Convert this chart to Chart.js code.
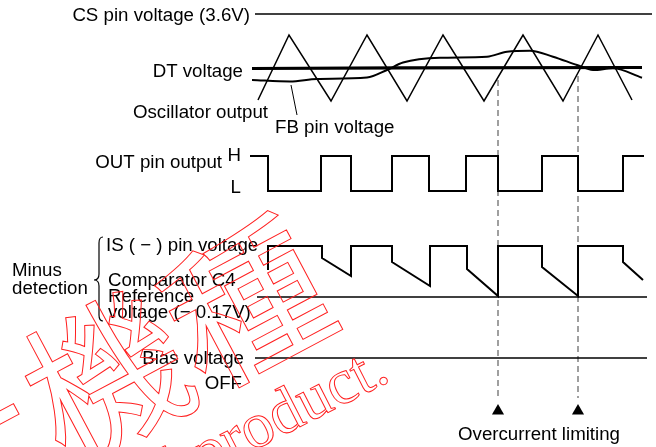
<!DOCTYPE html>
<html>
<head>
<meta charset="utf-8">
<script src="https://cdn.jsdelivr.net/npm/chart.js@4"></script>
<style>
  body { margin: 0; background: #fff; }
  canvas { display: block; }
</style>
</head>
<body>
<canvas id="diagram" width="656" height="447"></canvas>
<script>
// time axis runs left to right, levels are measured down from the top of the diagram
const csTimes = [255, 652];
const csLevels = [14, 14];

const oscTimes = [258, 289, 331, 367, 407, 443, 484, 523, 563, 598, 632];
const oscLevels = [100, 35, 101, 35, 101, 35, 101, 35, 101, 35, 100];

const dtTimes = [252, 400, 642];
const dtLevels = [68.5, 67.8, 67.5];

const fbTimes = [252, 290, 317, 367, 387, 403, 440, 487, 507, 530, 553, 577, 593, 613, 642];
const fbLevels = [80, 81.5, 79, 77.5, 70, 62.5, 57.7, 56.7, 51.7, 50.7, 56.7, 65, 70, 68.3, 77.7];

const fbPointerTimes = [291, 297];
const fbPointerLevels = [85, 115];

// OUT pin edges (stepped): level after each edge
const outTimes = [250, 268, 321, 351, 392, 429, 466, 498, 542, 578, 623, 644];
const outLevels = [156, 191, 156, 191, 156, 191, 156, 191, 156, 191, 156, 156];

const isTimes = [268, 268, 322, 322, 351, 351, 392, 392, 430, 430, 467, 467, 498, 498, 542, 542, 578, 578, 623, 623, 643];
const isLevels = [270, 246, 246, 258, 276, 246, 246, 262, 286, 246, 246, 269, 296, 246, 246, 267, 296, 246, 246, 262, 280];

const refTimes = [257, 647];
const refLevels = [297, 297];

const biasTimes = [255, 647];
const biasLevels = [358, 358];

const limitTimes = [498, 578];
const limitTop = [80, 76];
const limitBottom = 398;
const markerLevel = 411;

const labels = [
  ['CS pin voltage (3.6V)', 250, 16, 'right'],
  ['DT voltage', 243, 72, 'right'],
  ['Oscillator output', 268, 113, 'right'],
  ['FB pin voltage', 275, 128, 'left'],
  ['OUT pin output', 222, 163, 'right'],
  ['H', 241, 156, 'right'],
  ['L', 241, 188, 'right'],
  ['Minus', 12, 271, 'left'],
  ['detection', 12, 289, 'left'],
  ['IS ( \u2212 ) pin voltage', 106, 246, 'left'],
  ['Comparator C4', 108, 281, 'left'],
  ['Reference', 108, 297, 'left'],
  ['voltage (\u2212 0.17V)', 108, 313, 'left'],
  ['Bias voltage', 244, 359, 'right'],
  ['OFF', 242, 384, 'right'],
  ['Overcurrent limiting', 458, 435, 'left']
];

const toPoints = (xs, ys) => xs.map((x, i) => ({ x, y: ys[i] }));
const line = (xs, ys, extra) => Object.assign({
  data: toPoints(xs, ys),
  showLine: true,
  borderColor: '#000',
  borderWidth: 2,
  pointRadius: 0,
  fill: false
}, extra || {});

const datasets = [
  line(csTimes, csLevels, { borderWidth: 1.5 }),
  line(oscTimes, oscLevels, { borderWidth: 1.5 }),
  line(dtTimes, dtLevels, { borderWidth: 3.2 }),
  line(fbTimes, fbLevels, { borderWidth: 2, tension: 0.4, cubicInterpolationMode: 'monotone' }),
  line(fbPointerTimes, fbPointerLevels, { borderWidth: 1 }),
  line(outTimes, outLevels, { stepped: true }),
  line(isTimes, isLevels),
  line(refTimes, refLevels, { borderWidth: 1.5 }),
  line(biasTimes, biasLevels, { borderWidth: 1.5 })
];
limitTimes.forEach((t, i) => {
  datasets.push(line([t, t], [limitTop[i], limitBottom], { borderColor: '#808080', borderWidth: 1.5, borderDash: [6, 4] }));
});
datasets.push({
  data: toPoints(limitTimes, limitTimes.map(() => markerLevel)),
  showLine: false,
  pointStyle: 'triangle',
  pointRadius: 7,
  backgroundColor: '#000',
  borderColor: '#000',
  borderWidth: 0
});

const textPlugin = {
  id: 'diagramText',
  afterDraw(chart) {
    const { ctx, scales: { x, y } } = chart;
    ctx.save();
    ctx.fillStyle = '#000';
    ctx.font = '18.7px "Liberation Sans", Arial, sans-serif';
    ctx.textBaseline = 'middle';
    labels.forEach(([text, tx, ty, align]) => {
      ctx.textAlign = align;
      ctx.fillText(text, x.getPixelForValue(tx), y.getPixelForValue(ty));
    });

    // curly brace joining the minus detection labels
    const bx = x.getPixelForValue(100), top = y.getPixelForValue(237);
    const mid = y.getPixelForValue(280), bot = y.getPixelForValue(321);
    const tip = x.getPixelForValue(94);
    ctx.strokeStyle = '#000';
    ctx.lineWidth = 1.2;
    ctx.beginPath();
    ctx.moveTo(bx + 3, top);
    ctx.quadraticCurveTo(bx - 1, top, bx - 1, top + 6);
    ctx.lineTo(bx - 1, mid - 6);
    ctx.quadraticCurveTo(bx - 1, mid, tip, mid);
    ctx.quadraticCurveTo(bx - 1, mid, bx - 1, mid + 6);
    ctx.lineTo(bx - 1, bot - 6);
    ctx.quadraticCurveTo(bx - 1, bot, bx + 3, bot);
    ctx.stroke();

    // watermark
    ctx.strokeStyle = '#ff2020';
    ctx.lineWidth = 1;
    ctx.save();
    ctx.translate(x.getPixelForValue(36), y.getPixelForValue(414));
    ctx.rotate(-28 * Math.PI / 180);
    ctx.font = '158px "Noto Sans CJK JP"';
    ctx.textAlign = 'center';
    ctx.textBaseline = 'middle';
    ctx.strokeText('廃止機種', 0, 0);
    ctx.restore();
    ctx.save();
    ctx.translate(x.getPixelForValue(392), y.getPixelForValue(380));
    ctx.rotate(-27 * Math.PI / 180);
    ctx.font = '64px "Liberation Serif", serif';
    ctx.textAlign = 'right';
    ctx.textBaseline = 'alphabetic';
    ctx.strokeText('Discontinued product.', 0, 0);
    ctx.restore();
    ctx.restore();
  }
};

new Chart(document.getElementById('diagram').getContext('2d'), {
  type: 'scatter',
  data: { datasets },
  options: {
    responsive: false,
    animation: false,
    layout: { padding: 0, autoPadding: false },
    plugins: { legend: { display: false }, tooltip: { enabled: false } },
    scales: {
      x: { type: 'linear', min: 0, max: 656, display: false },
      y: { type: 'linear', min: 0, max: 447, reverse: true, display: false }
    }
  },
  plugins: [textPlugin]
});
</script>
</body>
</html>
